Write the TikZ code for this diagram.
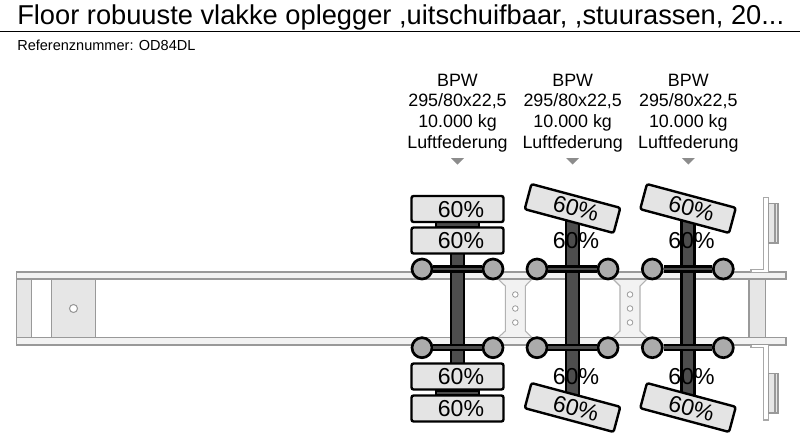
\documentclass[tikz,border=0pt]{standalone}
\usepackage{fontspec}
\setmainfont{Liberation Sans}
\definecolor{frameline}{HTML}{999999}
\definecolor{framefill}{HTML}{F2F2F2}
\definecolor{panelfill}{HTML}{E6E6E6}
\definecolor{tyrefill}{HTML}{E4E4E4}
\definecolor{hubfill}{HTML}{ABABAB}
\definecolor{tubefill}{HTML}{4D4D4D}
\definecolor{marker}{HTML}{8C8C8C}
\tikzset{
  x=0.75pt,y=-0.75pt,
  beam/.style={draw=frameline,fill=framefill,line width=0.9pt},
  panel/.style={draw=frameline,fill=panelfill,line width=0.9pt},
  plate/.style={draw=frameline!85,fill=white,line width=0.9pt},
  webfill/.style={fill=framefill,draw=none},
  webedge/.style={draw=frameline!75,line width=0.8pt},
  bolt/.style={circle,draw=frameline,fill=white,line width=0.6pt,inner sep=0pt,minimum size=4.2pt},
  bigbolt/.style={circle,draw=frameline,fill=white,line width=0.8pt,inner sep=0pt,minimum size=6pt},
  tyre/.style={draw=black,fill=tyrefill,line width=1.8pt,rounded corners=1.6pt,minimum width=69pt,minimum height=19.5pt,inner sep=0pt},
  pct/.style={inner sep=0pt,font=\fontsize{17.3}{18}\selectfont},
  hub/.style={circle,draw=black,fill=hubfill,line width=2pt,inner sep=0pt,minimum size=15pt},
  tube/.style={draw=black,fill=tubefill,line width=1.8pt},
  shaftout/.style={draw=black,line width=5.5pt},
  shaftin/.style={draw=tubefill,line width=2pt},
  info/.style={align=center,inner sep=0pt,font=\fontsize{13.4}{15.45}\selectfont},
  pointer/.style={fill=marker,draw=none}
}
\begin{document}
\begin{tikzpicture}
\useasboundingbox (0,0) rectangle (800,440);
\fill[white] (0,0) rectangle (800,440);
% header
\node[anchor=base west,inner sep=0pt,font=\fontsize{20.45}{20}\selectfont] (title) at (17,24.5) {Floor robuuste vlakke oplegger ,uitschuifbaar, ,stuurassen, 20...};
\draw[black,line width=0.75pt] (0,31.5) -- (800,31.5);
\node[anchor=base west,inner sep=0pt,font=\fontsize{10.9}{12}\selectfont] (ref) at (17,50) {Referenznummer: OD84DL};
% frame
\draw[panel] (16.5,279) rectangle (31.5,337.7);
\draw[panel] (51.5,279) rectangle (95.5,337.7);
\node[bigbolt] (kingpin) at (73.5,308.5) {};
\draw[panel] (749,279) rectangle (765.7,337.7);
% connecting plates
\foreach \wa/\wb/\wc/\wd/\pn in {498/505.3/525.3/532/a,613/620/640/647/b}{
  \fill[webfill] (\wa,279) -- (\wb,286) -- (\wb,331) -- (\wa,337.7) -- (\wd,337.7) -- (\wc,331) -- (\wc,286) -- (\wd,279) -- cycle;
  \draw[webedge] (\wa,279) -- (\wb,286) -- (\wb,331) -- (\wa,337.7);
  \draw[webedge] (\wd,279) -- (\wc,286) -- (\wc,331) -- (\wd,337.7);
  \foreach \py/\pm in {294.5/t,308.5/m,322.5/u}{
    \node[bolt] (bolt\pn\pm) at ({(\wb+\wc)/2},\py) {};
  }
}
\draw[beam] (16.5,272) rectangle (786,279);
\draw[beam] (16.5,337.7) rectangle (786,345);
% rear plates
\draw[plate] (751,272) -- (751,269.5) -- (763.7,269.5) -- (763.7,197.5) -- (768.3,197.5) -- (768.3,272);
\draw[panel] (768.3,203.5) rectangle (778,243);
\draw[frameline,line width=0.9pt] (775,203.5) -- (775,243);
\draw[plate] (751,345) -- (751,347.5) -- (763.7,347.5) -- (763.7,420) -- (768.3,420) -- (768.3,345);
\draw[panel] (768.3,373.5) rectangle (778,413);
\draw[frameline,line width=0.9pt] (775,373.5) -- (775,413);
% axle 1
\draw[tube] (451,224) rectangle (464,394);
\draw[tube] (436,222) rectangle (479,227);
\draw[tube] (436,391) rectangle (479,395);
\node[tyre] (t1a) at (457.5,209) {};
\node[tyre] (t1b) at (457.5,240.5) {};
\node[tyre] (t1c) at (457.5,376.5) {};
\node[tyre] (t1d) at (457.5,408.5) {};
\node[pct] (p1a) at (461,210) {60\%};
\node[pct] (p1b) at (461,241) {60\%};
\node[pct] (p1c) at (461,376.5) {60\%};
\node[pct] (p1d) at (461,408.5) {60\%};
% axles 2, 3
\foreach \ax/\an in {572.5/2,688/3}{
  \draw[tube] (\ax-6.5,215) rectangle (\ax+6.5,400);
  \node[pct] (p\an b) at (\ax+3.5,241) {60\%};
  \node[pct] (p\an c) at (\ax+3.5,376.5) {60\%};
  \node[tyre,rotate=-15] (t\an a) at (\ax,208.5) {};
  \node[tyre,rotate=-15] (t\an d) at (\ax,407.5) {};
  \node[pct,rotate=-15] (p\an a) at (\ax+3.5,208.5) {60\%};
  \node[pct,rotate=-15] (p\an d) at (\ax+3.5,408.5) {60\%};
}
% hubs and shafts
\foreach \lx/\rx/\an in {422/493/1,537/608/2,652.3/723.3/3}{
  \foreach \hy/\hn in {269/t,347.7/u}{
    \node[hub] (hl\an\hn) at (\lx,\hy) {};
    \node[hub] (hr\an\hn) at (\rx,\hy) {};
    \draw[shaftout] (hl\an\hn) -- (hr\an\hn);
    \draw[shaftin] (hl\an\hn) -- (hr\an\hn);
  }
}
% labels
\foreach \ax/\an in {457.5/1,572.7/2,688.3/3}{
  \node[info,anchor=center] (lab\an) at (\ax,113) {BPW\\295/80x22,5\\10.000 kg\\Luftfederung};
  \fill[pointer] (\ax-6.5,158) -- (\ax+6.5,158) -- (\ax,164.5) -- cycle;
}
\end{tikzpicture}
\end{document}
